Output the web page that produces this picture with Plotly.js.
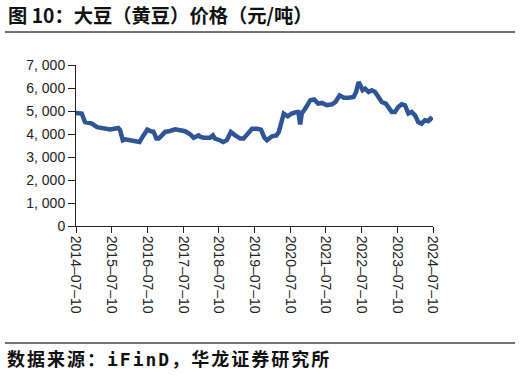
<!DOCTYPE html>
<html><head><meta charset="utf-8">
<script src="https://cdn.plot.ly/plotly-3.0.1.min.js"></script>
<style>html,body{margin:0;padding:0;background:#fff}#c{width:520px;height:376px}
.annotation-text{letter-spacing:2px}</style>
</head><body><div id="c"></div>
<script>
const dates = ["2014-07-10","2014-09-07","2014-10-10","2014-11-10","2014-12-20","2015-02-10","2015-04-15","2015-06-25","2015-09-15","2015-10-05","2015-11-01","2015-11-25","2016-01-15","2016-03-05","2016-04-20","2016-05-30","2016-07-10","2016-08-15","2016-09-10","2016-10-10","2016-11-01","2016-12-05","2017-01-07","2017-02-25","2017-04-20","2017-06-10","2017-07-30","2017-09-20","2017-10-25","2017-12-15","2018-01-05","2018-02-05","2018-04-10","2018-05-10","2018-06-01","2018-07-20","2018-08-25","2018-09-30","2018-11-10","2018-12-25","2019-02-15","2019-03-20","2019-05-10","2019-06-15","2019-08-05","2019-09-15","2019-10-20","2019-11-15","2020-01-05","2020-02-20","2020-03-15","2020-04-07","2020-05-05","2020-06-15","2020-07-25","2020-09-15","2020-10-01","2020-10-20","2020-11-05","2020-12-10","2021-01-03","2021-02-01","2021-03-12","2021-04-22","2021-05-30","2021-07-20","2021-09-10","2021-10-15","2021-11-28","2022-01-10","2022-03-01","2022-04-20","2022-05-15","2022-06-10","2022-06-28","2022-07-20","2022-08-15","2022-09-20","2022-10-22","2022-11-25","2022-12-30","2023-02-01","2023-03-15","2023-04-20","2023-05-15","2023-06-17","2023-07-20","2023-08-25","2023-09-28","2023-11-01","2023-12-05","2024-01-08","2024-02-10","2024-03-15","2024-04-18","2024-05-22","2024-06-15","2024-07-05"];
const prices = [4910,4890,4520,4480,4450,4300,4230,4200,4260,4160,3730,3770,3730,3680,3650,3940,4190,4120,4100,3800,3800,3940,4090,4130,4200,4160,4120,3990,3840,3940,3870,3840,3840,3940,3800,3730,3650,3730,4090,3940,3800,3800,4020,4230,4230,4190,3840,3730,3900,3940,4090,4520,4890,4770,4890,4960,4960,4420,4890,5100,5320,5470,5500,5320,5350,5250,5290,5390,5680,5580,5580,5610,5830,6260,6120,5900,5970,5830,5900,5830,5610,5390,5320,5100,4960,4960,5170,5290,5250,4890,4960,4810,4520,4450,4600,4560,4670,4600];
const yTickVals = [0,1000,2000,3000,4000,5000,6000,7000];
const yTickText = ["0","1, 000","2, 000","3, 000","4, 000","5, 000","6, 000","7, 000"];
const xTickVals = ["2014-07-10","2015-07-10","2016-07-10","2017-07-10","2018-07-10","2019-07-10","2020-07-10","2021-07-10","2022-07-10","2023-07-10","2024-07-10"];
const xTickText = ["2014–07–10","2015–07–10","2016–07–10","2017–07–10","2018–07–10","2019–07–10","2020–07–10","2021–07–10","2022–07–10","2023–07–10","2024–07–10"];
const titleText = "图 10：大豆（黄豆）价格（元/吨）";
const sourceText = "数据来源：iFinD，华龙证券研究所";

const trace = {x: dates, y: prices, type: 'scatter', mode: 'lines',
  line: {color: '#2F5597', width: 4.5, shape: 'linear'}, hoverinfo: 'skip'};

const layout = {
  width: 520, height: 376,
  margin: {l: 76, r: 87, t: 65, b: 150},
  paper_bgcolor: '#fff', plot_bgcolor: '#fff',
  showlegend: false,
  font: {family: 'Liberation Sans, Arial, sans-serif', color: '#222'},
  title: {text: titleText, x: 8/520, xanchor: 'left', xref: 'container',
          y: 1 - 16/376, yref: 'container', yanchor: 'middle',
          font: {family: 'Noto Sans CJK SC', size: 19.3, color: '#111', weight: 'bold'}},
  xaxis: {type: 'date', range: ['2014-07-10','2024-07-10'], tickvals: xTickVals,
          ticktext: xTickText, tickangle: 90, ticks: 'outside', ticklen: 6, tickcolor: '#222',
          showline: true, linecolor: '#222', linewidth: 1, showgrid: false, zeroline: false,
          tickfont: {size: 14, color: '#222'}, fixedrange: true},
  yaxis: {range: [0, 7000], tickvals: yTickVals, ticktext: yTickText, ticks: 'outside',
          ticklen: 7, tickcolor: '#222', showline: true, linecolor: '#222', linewidth: 1,
          showgrid: false, zeroline: false, tickfont: {size: 14, color: '#222'}, fixedrange: true},
  shapes: [
    {type: 'line', xref: 'paper', yref: 'paper', x0: (5-76)/357, x1: (515-76)/357,
     y0: (226-32)/161, y1: (226-32)/161, line: {color: '#444', width: 1.5}},
    {type: 'line', xref: 'paper', yref: 'paper', x0: (5-76)/357, x1: (515-76)/357,
     y0: (226-343)/161, y1: (226-343)/161, line: {color: '#444', width: 1.5}}
  ],
  annotations: [
    {text: sourceText, xref: 'paper', yref: 'paper', x: (5-76)/357, xanchor: 'left',
     y: (226-359)/161, yanchor: 'middle', showarrow: false,
     font: {family: 'DejaVu Sans Mono, Noto Sans CJK SC', size: 18, color: '#111', weight: 'bold'}}
  ]
};
Plotly.newPlot('c', [trace], layout, {displayModeBar: false, staticPlot: true});
</script></body></html>
